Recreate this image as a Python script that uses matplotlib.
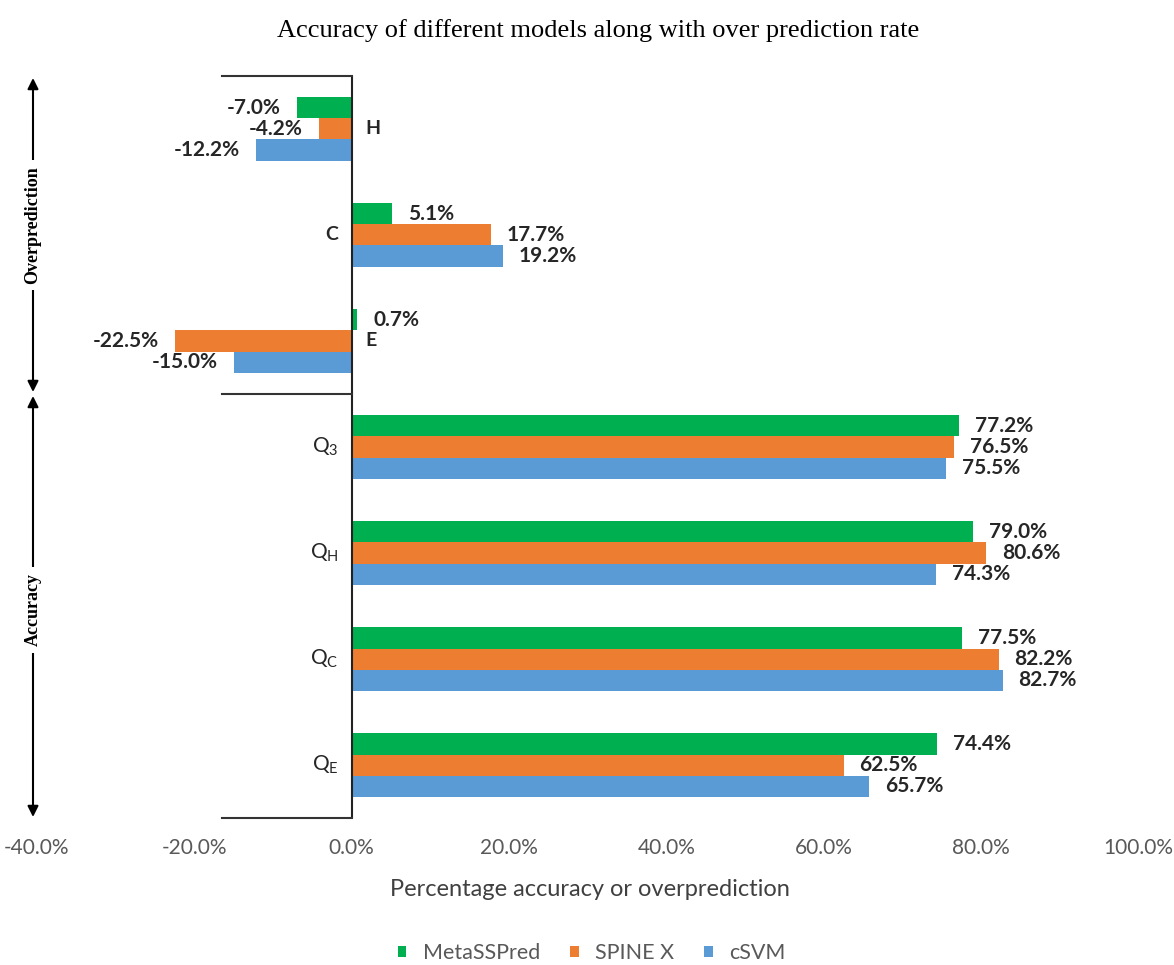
import matplotlib
matplotlib.use("Agg")
import matplotlib.pyplot as plt
from matplotlib.patches import Patch, FancyArrowPatch
import numpy as np

# ---- data -------------------------------------------------------------
categories = ["H", "C", "E", "Q3", "QH", "QC", "QE"]
category_labels = ["H", "C", "E",
                   r"$\mathregular{Q_3}$", r"$\mathregular{Q_H}$",
                   r"$\mathregular{Q_C}$", r"$\mathregular{Q_E}$"]
metasspred = [-7.0, 5.1, 0.7, 77.2, 79.0, 77.5, 74.4]
spine_x = [-4.2, 17.7, -22.5, 76.5, 80.6, 82.2, 62.5]
csvm = [-12.2, 19.2, -15.0, 75.5, 74.3, 82.7, 65.7]
series_names = ["MetaSSPred", "SPINE X", "cSVM"]
x_ticks = [-40, -20, 0, 20, 40, 60, 80, 100]

title = "Accuracy of different models along with over prediction rate"
x_label = "Percentage accuracy or overprediction"
section_names = ["Overprediction", "Accuracy"]

# ---- style ------------------------------------------------------------
colors = ["#00B050", "#ED7D31", "#5B9BD5"]
SANS = "Lato"
SERIF = "Liberation Serif"
W, H = 1174, 965

fig = plt.figure(figsize=(W / 100, H / 100), dpi=100)
fig.patch.set_facecolor("white")

ax_top, ax_bottom = 75.7, 818.3
ax = fig.add_axes([0, 1 - ax_bottom / H, 1, (ax_bottom - ax_top) / H])
ax.patch.set_visible(False)
ax.set_xlim(-44.69, 104.49)
ax.set_ylim(len(categories) - 0.5, -0.5)

y = np.arange(len(categories))
bar_h = 0.2
series = [metasspred, spine_x, csvm]
for k, (vals, name, col) in enumerate(zip(series, series_names, colors)):
    pos = y + (k - 1) * bar_h
    ax.barh(pos, vals, height=bar_h, color=col, label=name, zorder=2)
    for v, p in zip(vals, pos):
        ax.annotate(f"{v:.1f}%", xy=(v, p),
                    xytext=(11.5 if v >= 0 else -11.5, 0),
                    textcoords="offset points",
                    ha="left" if v >= 0 else "right", va="center",
                    fontsize=15, fontweight="bold", family=SANS,
                    color="#262626", zorder=4)

# category names sit on the side of the zero line away from the bars
for i, lbl in enumerate(category_labels):
    mean_val = np.mean([s[i] for s in series])
    right = mean_val < 0
    is_q = lbl.startswith("$")
    ax.annotate(lbl, xy=(0, i), xytext=(9.5 if right else -9.5, 0),
                textcoords="offset points",
                ha="left" if right else "right", va="center",
                fontsize=15 if is_q else 14,
                fontweight="normal" if is_q else "bold",
                family=SANS, color="#262626", zorder=4)

# zero line and section separators
ax.axvline(0, color="#222222", lw=1.5, zorder=3)
for yy in (-0.5, 2.5, len(categories) - 0.5):
    ax.plot([-16.5, 0], [yy, yy], color="#333333", lw=1.5,
            clip_on=False, zorder=3)

ax.set_xticks(x_ticks)
ax.set_xticklabels([f"{t:.1f}%" for t in x_ticks], family=SANS,
                   fontsize=15, color="#595959")
ax.tick_params(axis="x", length=0, pad=14)
ax.set_yticks([])
for s in ax.spines.values():
    s.set_visible(False)

# axis title, chart title
fig.text(589.5 / W, 1 - 890 / H, x_label, ha="center", va="center",
         family=SANS, fontsize=17, color="#404040")
fig.text(598 / W, 1 - 31 / H, title, ha="center", va="center",
         family=SERIF, fontsize=19, color="black")

# section arrows on the left
arrow_x = 33 / W
spans = [(78, 392, 225), (396, 817, 610)]
for (y0, y1, yc), name in zip(spans, section_names):
    arr = FancyArrowPatch((arrow_x, 1 - y1 / H), (arrow_x, 1 - y0 / H),
                          transform=fig.transFigure, arrowstyle="<|-|>",
                          mutation_scale=16, color="black", lw=1.5,
                          shrinkA=0, shrinkB=0, zorder=1)
    fig.add_artist(arr)
    fig.text(arrow_x, 1 - yc / H, name, rotation=90, ha="center",
             va="center", family=SERIF, fontweight="bold", fontsize=13,
             color="black", zorder=3,
             bbox=dict(boxstyle="square,pad=0.35", facecolor="white",
                       edgecolor="none"))

# legend
handles = [Patch(facecolor=c, edgecolor="none", label=n)
           for c, n in zip(colors, series_names)]
fig.legend(handles=handles, loc="center",
           bbox_to_anchor=(591.5 / W, 1 - 953 / H), ncol=3, frameon=False,
           handlelength=0.4, handleheight=0.4, handletextpad=0.75,
           columnspacing=1.4, prop={"family": SANS, "size": 15.5},
           labelcolor="#595959")

fig.savefig("out.png", dpi=100, facecolor="white")
